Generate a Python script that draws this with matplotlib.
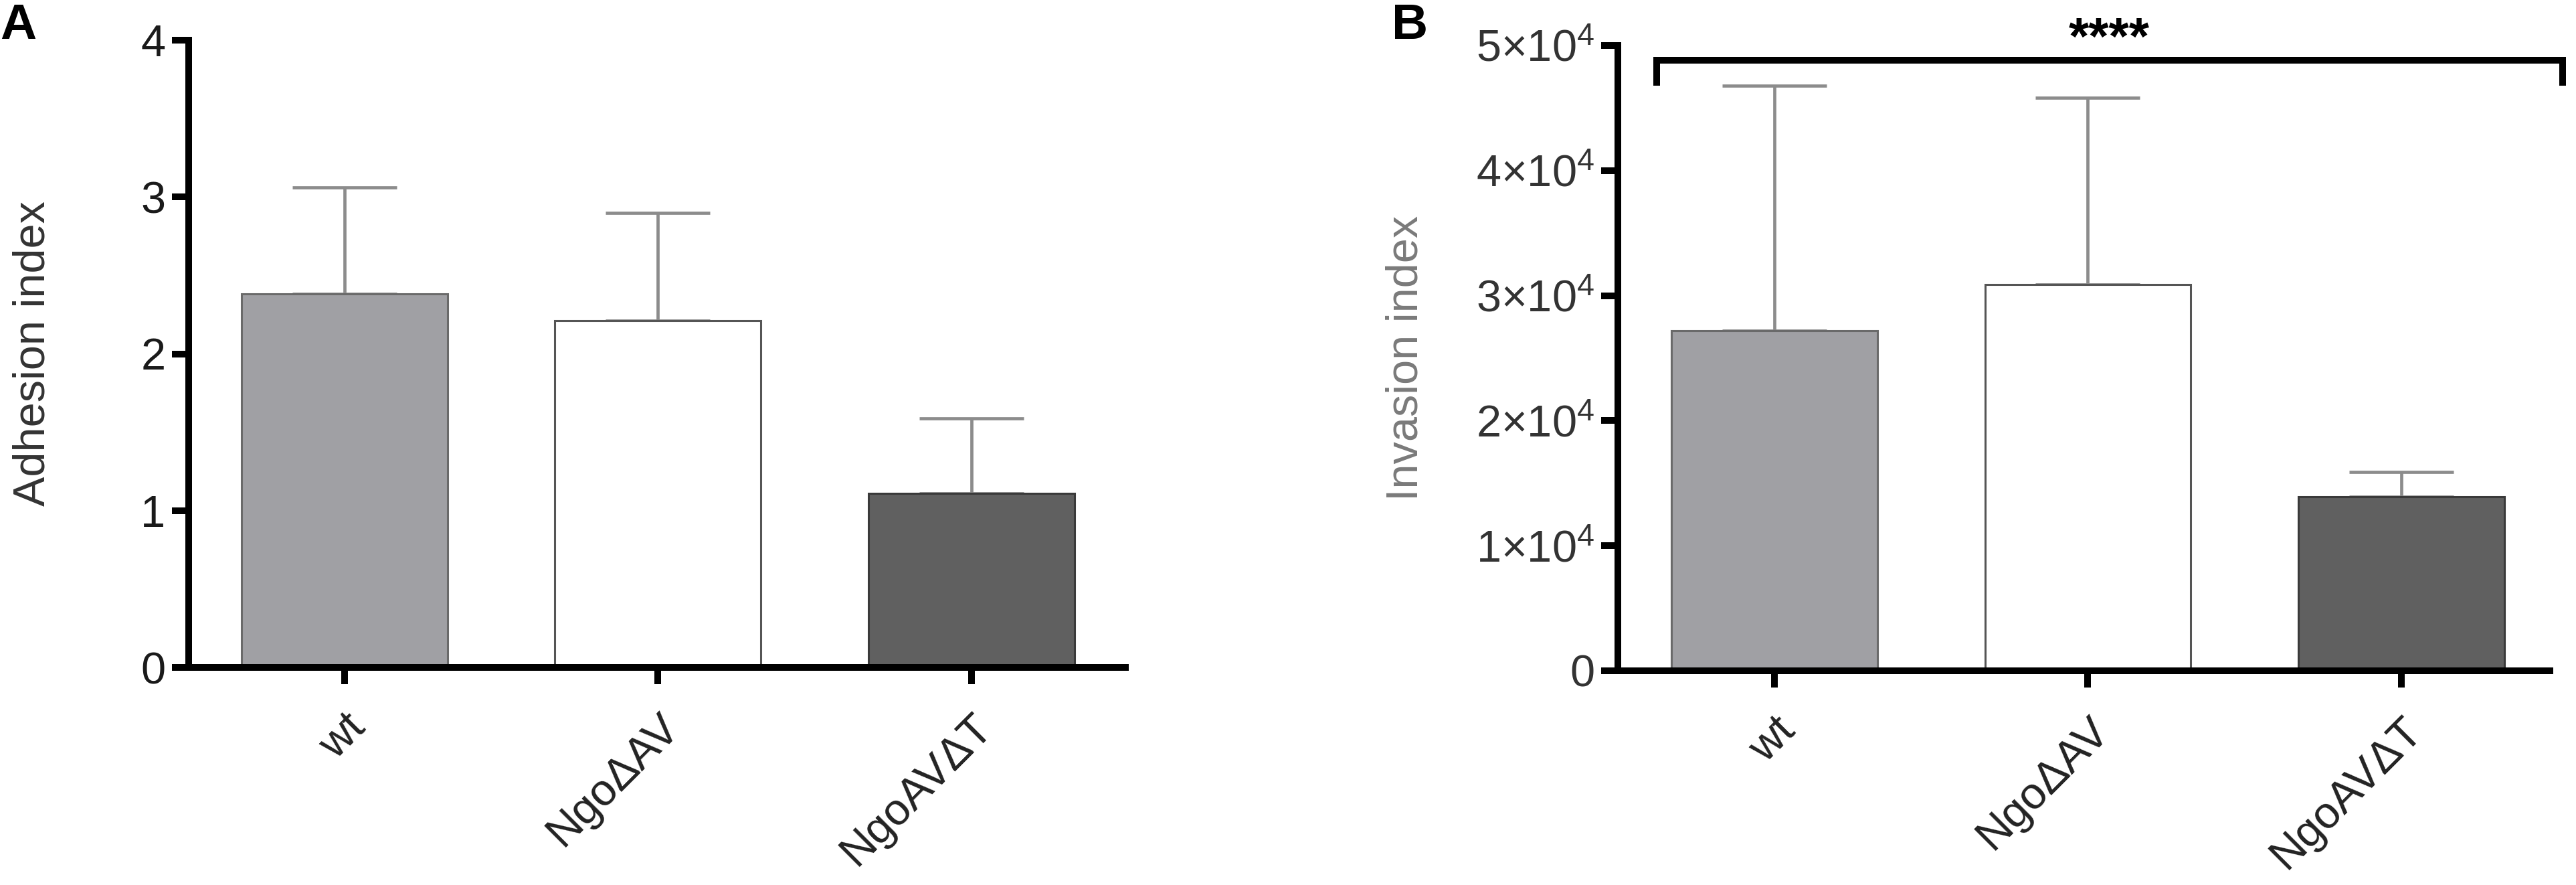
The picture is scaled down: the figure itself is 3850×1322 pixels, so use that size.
import matplotlib
matplotlib.use('Agg')
import matplotlib.pyplot as plt
import numpy as np

plt.rcParams['font.family'] = ['Liberation Sans', 'DejaVu Sans']
plt.rcParams['mathtext.fontset'] = 'custom'
plt.rcParams['mathtext.rm'] = 'Liberation Sans'
plt.rcParams['mathtext.it'] = 'Liberation Sans:italic'

# data
strains = ['wt', 'NgoΔAV', 'NgoAVΔT']
adhesion_mean = [2.38, 2.21, 1.11]
adhesion_sd = [0.68, 0.69, 0.48]
invasion_mean = [2.72e4, 3.09e4, 1.39e4]
invasion_sd = [1.96e4, 1.49e4, 0.20e4]
adhesion_ticks = [0, 1, 2, 3, 4]
adhesion_ticklabels = ['0', '1', '2', '3', '4']
invasion_ticks = [0, 1e4, 2e4, 3e4, 4e4, 5e4]
invasion_ticklabels = ['0'] + [r'$%d{\times}10^{4}$' % k for k in range(1, 6)]
signif = '****'

fills = ['#a0a0a4', '#ffffff', '#606060']
edges = ['#6a6a6a', '#555555', '#3a3a3a']

W, H = 3850, 1322
fig = plt.figure(figsize=(W / 100, H / 100), dpi=100)
axA = fig.add_axes([282 / W, 1 - 997 / H, 1400 / W, 937 / H])
axB = fig.add_axes([2418 / W, 1 - 1002 / H, 1393 / W, 934 / H])

x = np.arange(len(strains))
bw = 0.657


def draw(ax, mean, sd, ticks, ticklabels, ylabel, ylab_color, tick_color):
    ax.bar(x, mean, width=bw, color=fills, edgecolor=edges, linewidth=2.2, zorder=2)
    ax.errorbar(x, mean, yerr=[np.zeros(len(sd)), sd], fmt='none',
                ecolor='#8c8c8c', elinewidth=3.4, capsize=56, capthick=3.4, zorder=1)
    ax.spines['top'].set_visible(False)
    ax.spines['right'].set_visible(False)
    for s in ('left', 'bottom'):
        ax.spines[s].set_linewidth(7.2)
        ax.spines[s].set_color('black')
    ax.set_yticks(ticks)
    ax.set_yticklabels(ticklabels, color=tick_color)
    ax.set_ylim(ticks[0], ticks[-1])
    ax.set_xticks(x)
    ax.set_xticklabels(strains, rotation=45, ha='right', va='top',
                       rotation_mode='anchor', color='#222222')
    ax.tick_params(axis='both', width=7.2, length=18, labelsize=48)
    ax.tick_params(axis='y', pad=7)
    ax.tick_params(axis='x', pad=24)
    ax.set_ylabel(ylabel, fontsize=48, color=ylab_color)


draw(axA, adhesion_mean, adhesion_sd, adhesion_ticks, adhesion_ticklabels,
     'Adhesion index', '#333333', '#1a1a1a')
axA.set_xlim(-0.497, 2.491)
axA.yaxis.set_label_coords(-0.144, 0.5)

draw(axB, invasion_mean, invasion_sd, invasion_ticks, invasion_ticklabels,
     'Invasion index', '#7a7a7a', '#333333')
axB.set_xlim(-0.4995, 2.474)
axB.yaxis.set_label_coords(-0.205, 0.5)

# significance bracket over all groups
bl, br = x[0] - 0.376, x[-1] + 0.514
btop, bend = 4.88e4, 4.68e4
axB.plot([bl, bl, br, br], [bend, btop, btop, bend], color='black', lw=7.2,
         clip_on=False, solid_joinstyle='miter', solid_capstyle='butt')
axB.text((bl + br) / 2, 4.93e4, signif, ha='center', va='baseline',
         fontsize=56, fontweight='bold', clip_on=False)

fig.text(0.0, 1 - 58 / H, 'A', fontsize=54, fontweight='bold', va='baseline')
fig.text(2080 / W, 1 - 58 / H, 'B', fontsize=54, fontweight='bold', va='baseline')

fig.savefig('out.png', dpi=100)
